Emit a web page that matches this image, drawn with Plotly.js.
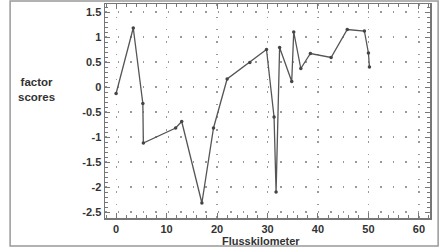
<!DOCTYPE html>
<html><head><meta charset="utf-8">
<script src="https://cdn.plot.ly/plotly-3.0.1.min.js"></script>
<style>html,body{margin:0;padding:0;background:#fff;}#chart{width:440px;height:248px;}</style>
</head><body><div id="chart"></div>
<script>
const km = [0, 3.4, 5.3, 5.4, 11.8, 13, 17, 19.3, 22, 26.5, 29.8, 31.3, 31.7, 32.4, 34.8, 35.2, 36.6, 38.5, 42.6, 45.8, 49.2, 50, 50.2];
const scores = [-0.13, 1.18, -0.33, -1.12, -0.82, -0.69, -2.32, -0.82, 0.16, 0.49, 0.75, -0.6, -2.1, 0.79, 0.11, 1.1, 0.37, 0.67, 0.59, 1.15, 1.12, 0.68, 0.4];
const yTicks = [-2.5, -2, -1.5, -1, -0.5, 0, 0.5, 1, 1.5];
const xTicks = [0, 10, 20, 30, 40, 50, 60];
const tickFont = {family: 'Liberation Sans, Arial, sans-serif', size: 11, color: '#333', weight: 'bold'};
const axisCommon = {
  showline: true, linecolor: '#777', linewidth: 1.5, mirror: 'ticks',
  ticks: 'inside', ticklen: 5, tickcolor: '#777', tickwidth: 1,
  showgrid: true, gridcolor: '#999', gridwidth: 1.2, griddash: '1.5px,11px',
  zeroline: false, tickfont: tickFont
};
const layout = {
  width: 440, height: 248,
  margin: {l: 105, r: 10, t: 4, b: 30},
  paper_bgcolor: '#fff', plot_bgcolor: '#fff',
  showlegend: false,
  xaxis: Object.assign({}, axisCommon, {
    range: [-2.2, 62.2], tickmode: 'array', tickvals: xTicks, ticktext: xTicks.map(String),
    minor: {dtick: 2, ticklen: 3, tickcolor: '#777', ticks: 'inside', showgrid: false}
  }),
  yaxis: Object.assign({}, axisCommon, {
    range: [-2.62, 1.66], tickmode: 'array', tickvals: yTicks, ticktext: yTicks.map(String),
    minor: {dtick: 0.1, ticklen: 3, tickcolor: '#777', ticks: 'inside', showgrid: false}
  }),
  annotations: [
    {text: '<b>factor<br>scores</b>', xref: 'paper', yref: 'paper', x: -0.21, y: 0.6,
     xanchor: 'center', yanchor: 'middle', showarrow: false,
     font: {family: 'Liberation Sans, Arial, sans-serif', size: 11.5, color: '#333'}},
    {text: '<b>Flusskilometer</b>', xref: 'paper', yref: 'paper', x: 0.48, y: -0.1055,
     xanchor: 'center', yanchor: 'middle', showarrow: false,
     font: {family: 'Liberation Sans, Arial, sans-serif', size: 11, color: '#333'}}
  ],
  shapes: [
    {type: 'rect', xref: 'paper', yref: 'paper', x0: -0.292, x1: 1.025, y0: -0.131, y1: 1.014,
     line: {color: '#999', width: 1.5}}
  ]
};
const trace = {
  x: km, y: scores, type: 'scatter', mode: 'lines+markers',
  line: {color: '#555', width: 1.3},
  marker: {color: '#444', size: 3.5}
};
Plotly.newPlot('chart', [trace], layout, {displayModeBar: false, staticPlot: true});
</script></body></html>
